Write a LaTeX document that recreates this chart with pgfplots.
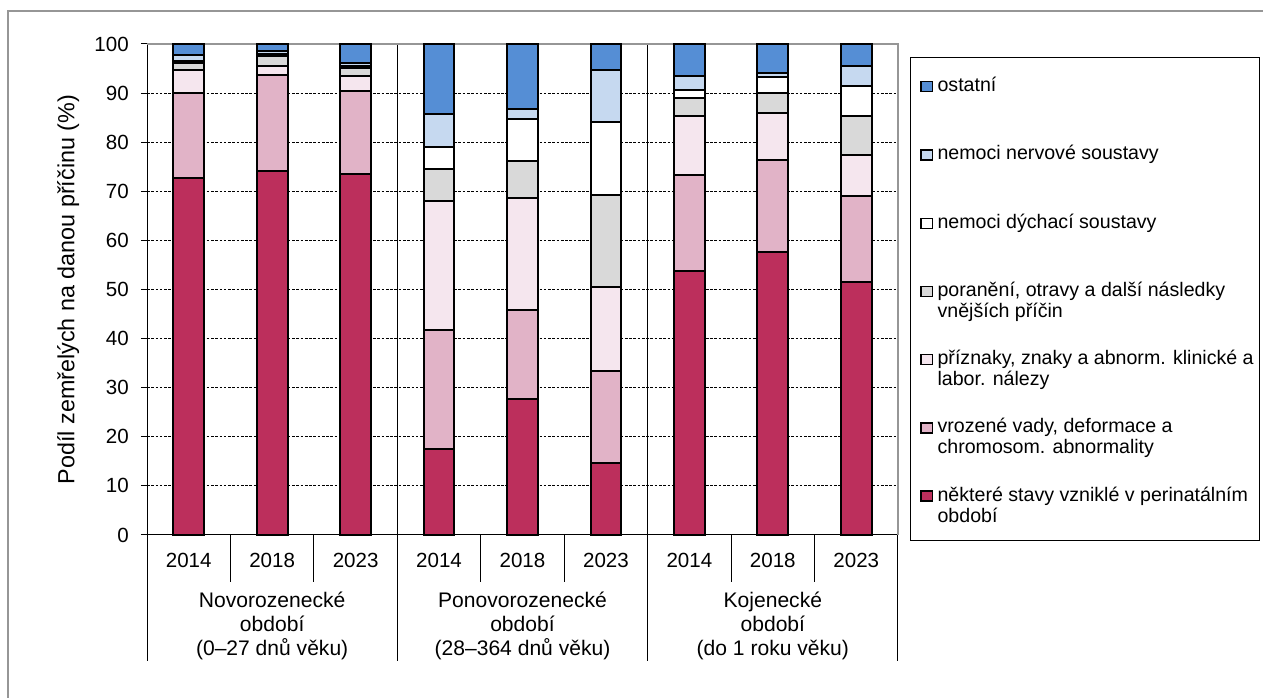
\documentclass[border=0pt]{standalone}
\usepackage{fontspec}
\setmainfont{Liberation Sans}
\usepackage{pgfplots}
\usepackage{pgfplotstable}
\pgfplotsset{compat=1.18}

\definecolor{cPer}{RGB}{188,47,92}
\definecolor{cVroz}{RGB}{225,179,199}
\definecolor{cPriz}{RGB}{245,230,238}
\definecolor{cPor}{RGB}{217,217,217}
\definecolor{cDych}{RGB}{255,255,255}
\definecolor{cNerv}{RGB}{198,217,240}
\definecolor{cOst}{RGB}{85,142,213}
\definecolor{cFrame}{RGB}{150,150,150}

% podil zemrelych (%) podle pricin, x = 0..8 (3 obdobi x 3 roky)
\pgfplotstableread{
x per  vroz prizn poran dych nerv ost
0 72.7 17.4 4.7  1.4   0.4  1.1  2.3
1 74.2 19.5 1.8  2.1   0.4  0.5  1.5
2 73.6 16.9 3.0  1.6   0.5  0.6  3.8
3 17.6 24.2 26.3 6.5   4.5  6.6  14.3
4 27.7 18.1 22.8 7.6   8.5  2.0  13.3
5 14.7 18.7 17.2 18.7  14.8 10.6 5.3
6 53.8 19.5 12.0 3.6   1.7  2.9  6.5
7 57.6 18.8 9.5  4.2   3.1  0.8  6.0
8 51.5 17.5 8.4  7.9   6.1  4.1  4.5
}\data

\newcommand{\lent}[1]{\parbox[t]{237pt}{\strut #1}}

\begin{document}
\begin{tikzpicture}
\useasboundingbox (0,0) rectangle (947.25pt,523.5pt);
\draw[cFrame, line width=1.5pt] (6pt,-2pt) -- (6pt,515.25pt) -- (950pt,515.25pt);
\begin{axis}[
    at={(110.25pt,122.25pt)}, anchor=south west,
    scale only axis, width=563.25pt, height=368.25pt,
    ybar stacked, bar width=0.37,
    xmin=-0.5, xmax=8.5, ymin=0, ymax=100,
    clip=false,
    axis x line*=bottom, axis y line*=left,
    axis line style={black, line width=0.75pt},
    xtick={0,...,8},
    xticklabels={2014,2018,2023,2014,2018,2023,2014,2018,2023},
    major x tick style={draw=none},
    ytick={0,10,...,100},
    tick align=outside, major tick length=4.5pt,
    y tick style={black, line width=0.75pt},
    /pgf/number format/assume math mode=true,
    tick label style={font=\fontsize{15.4}{18}\selectfont},
    xticklabel style={anchor=base, yshift=-20.25pt},
    yticklabel style={anchor=east, inner sep=0pt, xshift=-9pt},
    ymajorgrids,
    grid style={black, line width=0.75pt, dash pattern=on 2pt off 1.2pt},
    ylabel={Podíl zemřelých na danou příčinu (\%)},
    every axis y label/.style={at={(axis description cs:-0.105,0.5)}, rotate=90, anchor=center,
        font=\fontsize{17.5}{20}\selectfont},
    every axis plot/.append style={draw=black, line width=1.5pt},
    reverse legend,
    legend image code/.code={\draw[#1, line width=1pt] (0pt,0pt) rectangle (8.5pt,7.5pt);},
    legend style={at={(1.0173,0.9735)}, anchor=north west, draw=none, fill=none,
        inner xsep=6.75pt, inner ysep=13pt, row sep=34.85pt, column sep=1.5pt,
        cells={inner sep=0pt, anchor=base west},
        font=\fontsize{14.7}{13.7}\selectfont},
]
\addplot[fill=cPer] table[x=x,y=per]{\data};
\addlegendentry{\lent{některé stavy vzniklé v perinatálním\\období}}
\addplot[fill=cVroz] table[x=x,y=vroz]{\data};
\addlegendentry{\lent{vrozené vady, deformace a\\chromosom. abnormality}}
\addplot[fill=cPriz] table[x=x,y=prizn]{\data};
\addlegendentry{\lent{příznaky, znaky a abnorm. klinické a\\labor. nálezy}}
\addplot[fill=cPor] table[x=x,y=poran]{\data};
\addlegendentry{\lent{poranění, otravy a další následky\\vnějších příčin}}
\addplot[fill=cDych] table[x=x,y=dych]{\data};
\addlegendentry{\lent{nemoci dýchací soustavy}}
\addplot[fill=cNerv] table[x=x,y=nerv]{\data};
\addlegendentry{\lent{nemoci nervové soustavy}}
\addplot[fill=cOst] table[x=x,y=ost]{\data};
\addlegendentry{\lent{ostatní}}

% ramecek legendy
\draw[black, line width=0.75pt] (rel axis cs:1.0173,0.9735) rectangle (rel axis cs:1.4807,-0.0122);
% horni a prava hrana
\draw[cFrame, line width=1.5pt] (axis cs:-0.5,100) -- (axis cs:8.5,100) -- (axis cs:8.5,0);
% oddeleni skupin a let
\draw[black, line width=0.75pt] (axis cs:2.5,100) -- (axis cs:2.5,0) -- ++(0pt,-94.5pt);
\draw[black, line width=0.75pt] (axis cs:5.5,100) -- (axis cs:5.5,0) -- ++(0pt,-94.5pt);
\draw[black, line width=0.75pt] (axis cs:-0.5,0) -- ++(0pt,-94.5pt);
\draw[black, line width=0.75pt] (axis cs:8.5,0) -- ++(0pt,-94.5pt);
\draw[black, line width=0.75pt] (axis cs:0.5,0) -- ++(0pt,-35.25pt);
\draw[black, line width=0.75pt] (axis cs:1.5,0) -- ++(0pt,-35.25pt);
\draw[black, line width=0.75pt] (axis cs:3.5,0) -- ++(0pt,-35.25pt);
\draw[black, line width=0.75pt] (axis cs:4.5,0) -- ++(0pt,-35.25pt);
\draw[black, line width=0.75pt] (axis cs:6.5,0) -- ++(0pt,-35.25pt);
\draw[black, line width=0.75pt] (axis cs:7.5,0) -- ++(0pt,-35.25pt);
% nazvy obdobi
\node[anchor=north, inner sep=0pt, align=center, font=\fontsize{15.8}{18}\selectfont,
      yshift=-42.5pt] at (axis cs:1,0) {Novorozenecké\\období\\(0–27 dnů věku)};
\node[anchor=north, inner sep=0pt, align=center, font=\fontsize{15.8}{18}\selectfont,
      yshift=-42.5pt] at (axis cs:4,0) {Ponovorozenecké\\období\\(28–364 dnů věku)};
\node[anchor=north, inner sep=0pt, align=center, font=\fontsize{15.8}{18}\selectfont,
      yshift=-42.5pt] at (axis cs:7,0) {Kojenecké\\období\\(do 1 roku věku)};
\end{axis}
\end{tikzpicture}
\end{document}
